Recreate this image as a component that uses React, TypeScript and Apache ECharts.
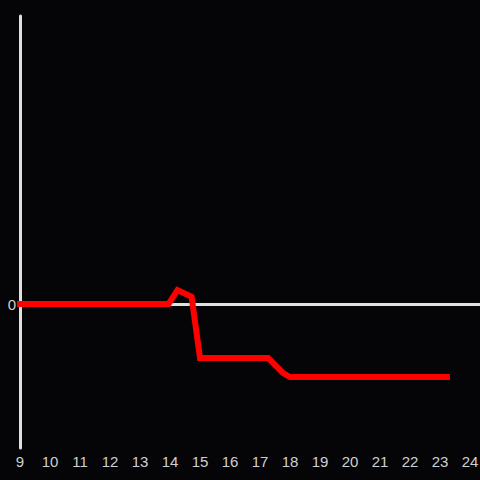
import React, { useEffect, useRef } from "react";
import * as echarts from "echarts";

const xValues = [9, 13.95, 14.25, 14.72, 15.0, 17.27, 17.77, 18.0, 23.23];
const yValues = [0, 0, 0.097, 0.05, -0.375, -0.375, -0.48, -0.507, -0.507];
const xRange = [9, 24.333];
const yRange = [-1, 2];

export default function App() {
  const ref = useRef<HTMLDivElement>(null);
  useEffect(() => {
    if (!ref.current) return;
    const chart = echarts.init(ref.current, null, { renderer: "svg" });
    const data = xValues.map((x, i) => [x, yValues[i]]);
    const font = "Liberation Sans";
    chart.setOption({
      animation: false,
      backgroundColor: "#050407",
      grid: { left: 20, right: 0, top: 16, bottom: 32, containLabel: false, outerBoundsMode: "none" },
      xAxis: [
        {
          type: "value",
          min: xRange[0],
          max: xRange[1],
          interval: 1,
          axisLine: { show: false, onZero: false },
          axisTick: { show: false },
          splitLine: { show: false },
          axisLabel: {
            color: "#d0d0d0",
            fontSize: 15,
            fontFamily: font,
            margin: 6,
            formatter: (v: number) => (Math.abs(v - Math.round(v)) < 1e-6 ? String(Math.round(v)) : ""),
          },
        },
        {
          type: "value",
          position: "bottom",
          min: xRange[0],
          max: xRange[1],
          axisLine: { show: true, onZero: true, lineStyle: { color: "#e0e0e0", width: 3 } },
          axisTick: { show: false },
          splitLine: { show: false },
          axisLabel: { show: false },
        },
      ],
      yAxis: {
        type: "value",
        min: yRange[0],
        max: yRange[1],
        interval: 1,
        axisLine: { show: true, onZero: false, lineStyle: { color: "#e0e0e0", width: 3 } },
        axisTick: { show: false },
        splitLine: { show: false },
        axisLabel: {
          color: "#d0d0d0",
          fontSize: 15,
          fontFamily: font,
          margin: 4,
          formatter: (v: number) => (v === 0 ? "0" : ""),
        },
      },
      series: [
        {
          type: "line",
          xAxisIndex: 0,
          data,
          showSymbol: false,
          symbol: "none",
          z: 5,
          lineStyle: { color: "#ff0000", width: 6, cap: "square", join: "miter" },
        },
      ],
    });
    return () => chart.dispose();
  }, []);
  return <div ref={ref} style={{ width: 480, height: 480, position: "absolute", left: 0, top: 0 }} />;
}
